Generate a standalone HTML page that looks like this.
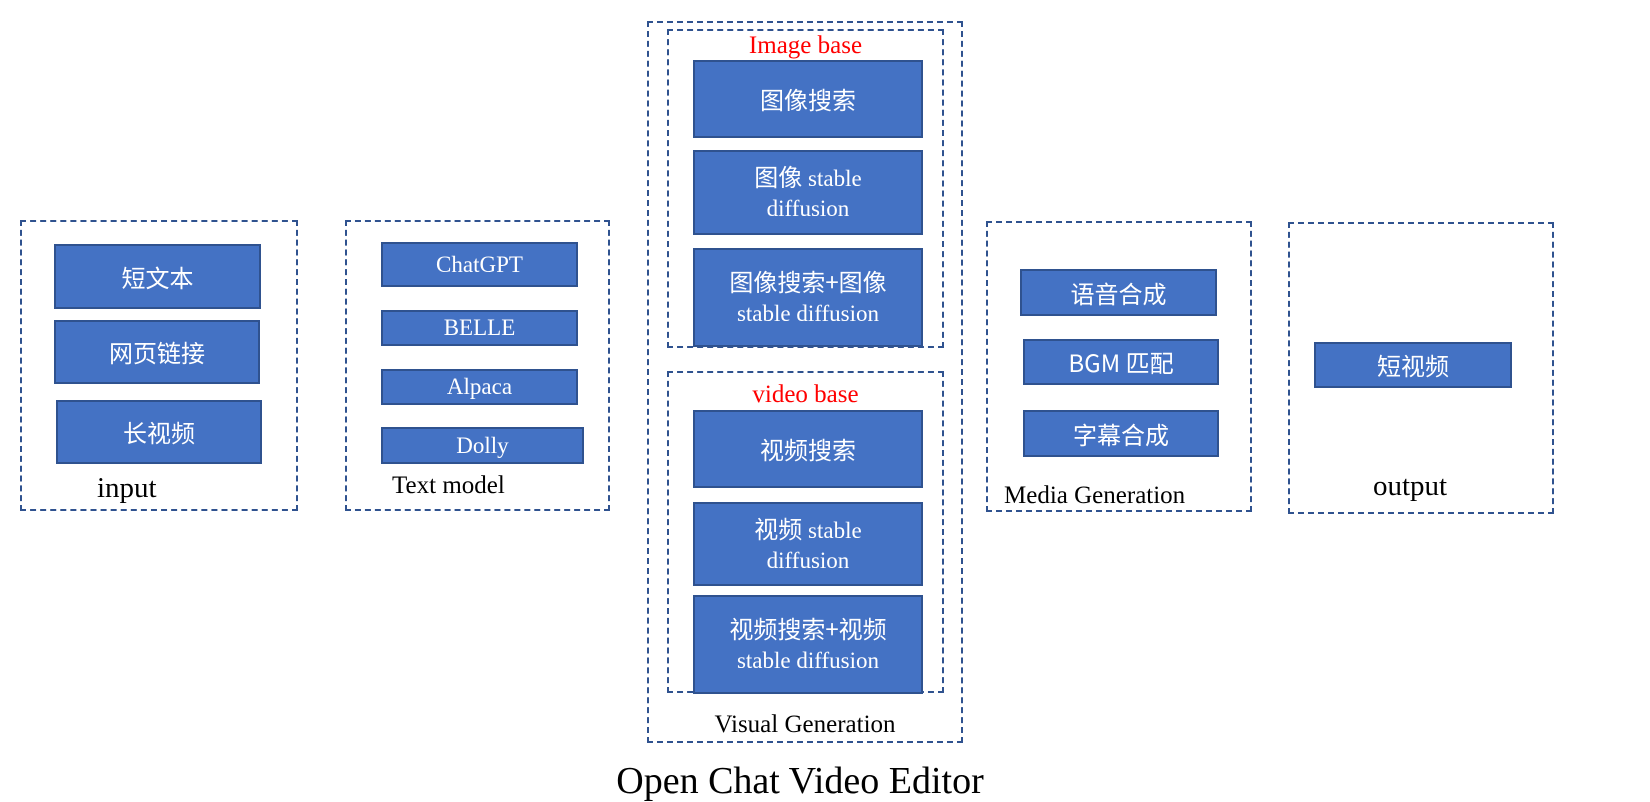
<!DOCTYPE html>
<html><head><meta charset="utf-8"><style>
body{margin:0;width:1650px;height:798px;background:#fff;position:relative;overflow:hidden;font-family:"Liberation Serif","Noto Sans CJK SC",serif}
.d{position:absolute;border:2px dashed #2F528F;box-sizing:border-box}
.b{position:absolute;background:#4472C4;border:2px solid #2F528F;box-sizing:border-box;color:#fff;display:flex;align-items:center;justify-content:center;text-align:center;font-size:23px;line-height:30px}
.c{font-family:"Noto Sans CJK SC","WenQuanYi Zen Hei",sans-serif;font-size:24px}
.t{position:absolute;color:#000;white-space:nowrap;line-height:1}
.r{color:#f00}
</style></head><body>
<div class="d" style="left:20px;top:220px;width:278px;height:291px"></div>
<div class="b c" style="left:54px;top:244px;width:207px;height:65px">短文本</div>
<div class="b c" style="left:54px;top:320px;width:206px;height:64px">网页链接</div>
<div class="b c" style="left:56px;top:400px;width:206px;height:64px">长视频</div>
<div class="t" style="left:97px;top:474px;font-size:29px">input</div>

<div class="d" style="left:345px;top:220px;width:265px;height:291px"></div>
<div class="b" style="left:381px;top:242px;width:197px;height:45px">ChatGPT</div>
<div class="b" style="left:381px;top:310px;width:197px;height:36px">BELLE</div>
<div class="b" style="left:381px;top:369px;width:197px;height:36px">Alpaca</div>
<div class="b" style="left:381px;top:427px;width:203px;height:37px">Dolly</div>
<div class="t" style="left:392px;top:473px;font-size:25px">Text model</div>

<div class="d" style="left:647px;top:21px;width:316px;height:722px"></div>
<div class="d" style="left:667px;top:29px;width:277px;height:319px"></div>
<div class="t r" style="left:667px;width:277px;text-align:center;top:33px;font-size:25px">Image base</div>
<div class="b c" style="left:693px;top:60px;width:230px;height:78px">图像搜索</div>
<div class="b" style="left:693px;top:150px;width:230px;height:85px"><span><span class="c">图像</span> stable<br>diffusion</span></div>
<div class="b" style="left:693px;top:248px;width:230px;height:99px"><span><span class="c">图像搜索+图像</span><br>stable diffusion</span></div>
<div class="d" style="left:667px;top:371px;width:277px;height:322px"></div>
<div class="t r" style="left:667px;width:277px;text-align:center;top:382px;font-size:25px">video base</div>
<div class="b c" style="left:693px;top:410px;width:230px;height:78px">视频搜索</div>
<div class="b" style="left:693px;top:502px;width:230px;height:84px"><span><span class="c">视频</span> stable<br>diffusion</span></div>
<div class="b" style="left:693px;top:595px;width:230px;height:99px"><span><span class="c">视频搜索+视频</span><br>stable diffusion</span></div>
<div class="t" style="left:647px;width:316px;text-align:center;top:712px;font-size:25px">Visual Generation</div>

<div class="d" style="left:986px;top:221px;width:266px;height:291px"></div>
<div class="b c" style="left:1020px;top:269px;width:197px;height:47px">语音合成</div>
<div class="b c" style="left:1023px;top:339px;width:196px;height:46px">BGM 匹配</div>
<div class="b c" style="left:1023px;top:410px;width:196px;height:47px">字幕合成</div>
<div class="t" style="left:1004px;top:483px;font-size:25px">Media Generation</div>

<div class="d" style="left:1288px;top:222px;width:266px;height:292px"></div>
<div class="b c" style="left:1314px;top:342px;width:198px;height:46px">短视频</div>
<div class="t" style="left:1373px;top:472px;font-size:29px">output</div>

<div class="t" style="left:0;width:1600px;text-align:center;top:762px;font-size:38px">Open Chat Video Editor</div>
</body></html>
